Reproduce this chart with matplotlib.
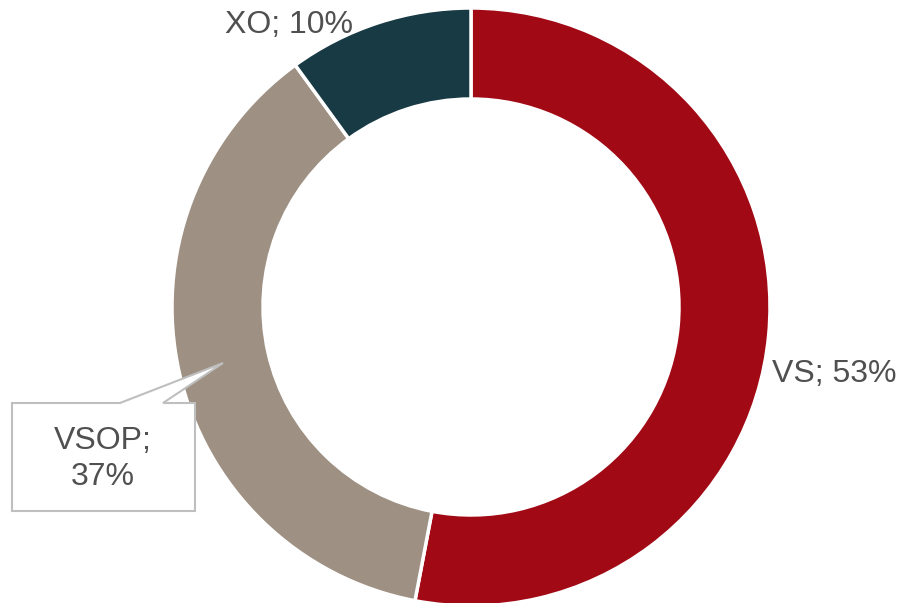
import matplotlib.pyplot as plt
from matplotlib.patches import Polygon

labels = ["VS", "VSOP", "XO"]
shares = [53, 37, 10]
colors = ["#A10915", "#9E9082", "#183A44"]

plt.rcParams["font.family"] = ["Liberation Sans", "DejaVu Sans"]

fig = plt.figure(figsize=(8.99, 6.03), dpi=100)
ax = fig.add_axes([0, 0, 1, 1])
ax.set_xlim(0, 899)
ax.set_ylim(0, 603)
ax.axis("off")

# donut, pixel coords (y up)
ax.pie(shares, colors=colors, startangle=90, counterclock=False,
       center=(471, 296), radius=299,
       wedgeprops=dict(width=91, edgecolor="white", linewidth=2.5))
ax.set_xlim(0, 899)
ax.set_ylim(0, 603)
ax.set_aspect("equal")

txt = "#505050"
fs = 23
ax.text(772, 229, f"{labels[0]}; {shares[0]}%", fontsize=fs, color=txt,
        ha="left", va="center")
ax.text(289, 578, f"{labels[2]}; {shares[2]}%", fontsize=fs, color=txt,
        ha="center", va="center")

# callout box for VSOP
pts = [(12, 403), (120, 403), (223, 363), (163, 403), (195, 403),
       (195, 511), (12, 511)]
ax.add_patch(Polygon([(x, 603 - y) for x, y in pts], closed=True,
                     facecolor="white", edgecolor="#BFBFBF", linewidth=1.5,
                     zorder=3))
ax.text(103, 603 - 459, f"{labels[1]};\n{shares[1]}%", fontsize=fs, color=txt,
        ha="center", va="center", linespacing=1.25, zorder=4)

fig.savefig("out.png", dpi=100)
